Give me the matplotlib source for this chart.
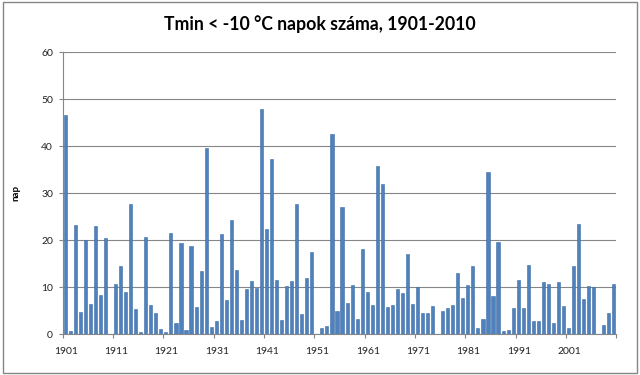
import matplotlib
matplotlib.use("Agg")
import matplotlib.pyplot as plt
from matplotlib.patches import Rectangle

years = list(range(1901, 2011))
days = [
    46.7, 0.6, 23.3, 4.8, 20.1, 6.5, 23.0, 8.3, 20.5, 0.0,      # 1901-1910
    10.6, 14.4, 8.9, 27.7, 5.3, 0.4, 20.7, 6.3, 4.6, 1.1,       # 1911-1920
    0.4, 21.6, 2.3, 19.4, 0.8, 18.7, 5.7, 13.5, 39.6, 1.6,      # 1921-1930
    2.7, 21.3, 7.2, 24.2, 13.7, 3.0, 9.5, 11.2, 9.8, 47.8,      # 1931-1940
    22.3, 37.2, 11.6, 3.1, 10.3, 11.2, 27.7, 4.2, 12.0, 17.5,   # 1941-1950
    0.0, 1.3, 1.8, 42.5, 5.0, 27.0, 6.7, 10.5, 3.3, 18.2,       # 1951-1960
    9.0, 6.1, 35.7, 31.9, 5.7, 6.1, 9.7, 8.8, 17.1, 6.5,        # 1961-1970
    10.0, 4.6, 4.4, 5.9, 0.0, 5.0, 5.5, 6.1, 12.9, 7.6,         # 1971-1980
    10.5, 14.5, 1.3, 3.3, 34.4, 8.2, 19.5, 0.7, 0.8, 5.5,       # 1981-1990
    11.6, 5.5, 14.7, 2.8, 2.8, 11.0, 10.7, 2.3, 11.0, 5.9,      # 1991-2000
    1.3, 14.4, 23.5, 7.4, 10.3, 10.0, 0.0, 1.9, 4.6, 10.7,      # 2001-2010
]
label_years = list(range(1901, 2011, 10))

plt.rcParams['font.family'] = ['Lato', 'DejaVu Sans']

fig = plt.figure(figsize=(6.4, 3.75), dpi=100)
ax = fig.add_axes([0.098, 0.109, 0.865, 0.752])

x = [y - 1901 for y in years]
ax.bar(x, days, width=0.62, color="#4F81BD", edgecolor="#3E6DA6", linewidth=0.4, zorder=3)

ax.set_xlim(-0.5, len(years) - 0.5)
ax.set_ylim(0, 60)
ax.set_yticks(range(0, 61, 10))
ax.tick_params(axis="y", labelsize=7.5, length=3, color="#868686", pad=4, labelcolor="#222222")
ax.yaxis.grid(True, color="#868686", linewidth=0.8, zorder=0)

# ticks between categories every 10 years, labels under the category
ax.set_xticks([yr - 1901 - 0.5 for yr in label_years] + [len(years) - 0.5])
ax.set_xticklabels([])
ax.tick_params(axis="x", length=3, color="#868686")
for yr in label_years:
    ax.text(yr - 1901 + 0.1, -3.6, str(yr), ha="center", va="center", fontsize=7.5, color="#222222")

for side in ["top", "right"]:
    ax.spines[side].set_visible(False)
ax.spines["left"].set_color("#868686")
ax.spines["bottom"].set_color("#868686")

ax.set_ylabel("nap", fontsize=7, fontweight="bold", labelpad=15)
fig.text(0.5, 0.935, "Tmin < -10 °C napok száma, 1901-2010", ha="center", va="center",
         fontsize=12.7, fontweight="bold")

fig.patches.append(Rectangle((0.004, 0.006), 0.992, 0.988, transform=fig.transFigure,
                             fill=False, edgecolor="#868686", linewidth=1))

fig.savefig("out.png", dpi=100)
